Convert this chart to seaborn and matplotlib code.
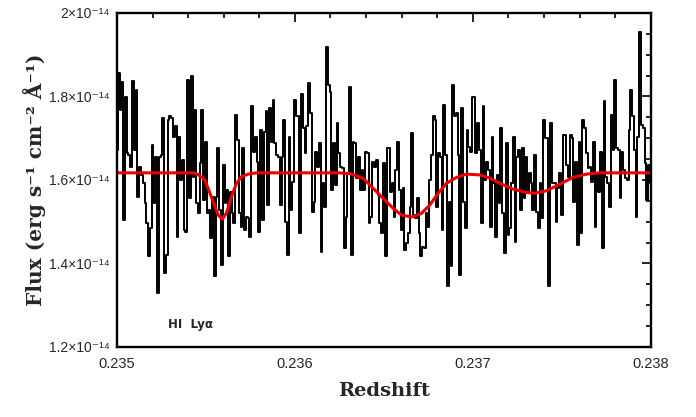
import numpy as np
import pandas as pd
import matplotlib
matplotlib.use('Agg')
import matplotlib.pyplot as plt
import seaborn as sns
from matplotlib.ticker import MultipleLocator, FuncFormatter

# espectro observado (fluxo em unidades de 1e-14 erg/s/cm2/A), bins de 1e-5 em z
z_inicio = 0.235
passo_z = 1e-5
fluxo = [
    1.672, 1.855, 1.768, 1.835, 1.504, 1.799, 1.664, 1.660, 1.632, 1.838,
    1.672, 1.815, 1.560, 1.632, 1.612, 1.592, 1.544, 1.496, 1.417, 1.484,
    1.684, 1.544, 1.656, 1.329, 1.656, 1.660, 1.748, 1.377, 1.421, 1.744,
    1.752, 1.748, 1.704, 1.728, 1.464, 1.704, 1.600, 1.648, 1.480, 1.476,
    1.839, 1.556, 1.849, 1.608, 1.768, 1.544, 1.520, 1.640, 1.768, 1.552,
    1.692, 1.520,
    1.528, 1.460, 1.560, 1.369, 1.560, 1.676, 1.528, 1.397, 1.636, 1.544,
    1.576, 1.417, 1.572, 1.520, 1.496, 1.756, 1.696, 1.520, 1.488, 1.676,
    1.480, 1.512, 1.508, 1.464, 1.776, 1.668, 1.704, 1.644, 1.476, 1.720,
    1.504, 1.716, 1.764, 1.540, 1.772, 1.692, 1.792, 1.688, 1.660, 1.656,
    1.540, 1.656, 1.744, 1.500, 1.421, 1.704, 1.528, 1.596, 1.792, 1.752,
    1.752, 1.472, 1.807, 1.724, 1.664, 1.728, 1.831, 1.760, 1.524, 1.548,
    1.668, 1.632, 1.688, 1.428, 1.592, 1.536, 1.919, 1.827, 1.811, 1.576,
    1.688, 1.588, 1.736, 1.664, 1.632, 1.628, 1.436, 1.512, 1.616, 1.823,
    1.421, 1.692, 1.688, 1.604, 1.656, 1.576, 1.624, 1.576, 1.668, 1.664,
    1.496, 1.512, 1.644, 1.632, 1.648, 1.564, 1.496, 1.472, 1.640, 1.417,
    1.676,
    1.676, 1.572, 1.592, 1.512, 1.624, 1.692, 1.576, 1.480, 1.580, 1.432,
    1.448, 1.472, 1.536, 1.712, 1.516, 1.508, 1.556, 1.472, 1.417, 1.440,
    1.436, 1.520, 1.488, 1.600, 1.660, 1.752, 1.744, 1.536, 1.664, 1.656,
    1.480, 1.780, 1.660, 1.345, 1.548, 1.393, 1.827, 1.752, 1.760, 1.660,
    1.373, 1.772, 1.548, 1.484, 1.720, 1.680, 1.668, 1.799,
    1.798, 1.664, 1.736, 1.672, 1.496, 1.776, 1.600, 1.644, 1.624, 1.488,
    1.704, 1.592, 1.464, 1.612, 1.544, 1.724, 1.520, 1.424, 1.688, 1.468,
    1.484, 1.592, 1.704, 1.452, 1.656, 1.672, 1.528, 1.676, 1.556, 1.656,
    1.572, 1.616, 1.592, 1.528, 1.660, 1.524, 1.484, 1.592, 1.508, 1.744,
    1.700, 1.700, 1.345, 1.736, 1.592, 1.592, 1.500, 1.580, 1.616, 1.516,
    1.708,
    1.708, 1.636, 1.608, 1.708, 1.700, 1.548, 1.644, 1.444, 1.692, 1.472,
    1.744, 1.724, 1.664, 1.628, 1.632, 1.596, 1.692, 1.488, 1.616, 1.572,
    1.668, 1.436, 1.788, 1.608, 1.592, 1.536, 1.756, 1.672, 1.839, 1.676,
    1.672, 1.556, 1.668, 1.624, 1.604, 1.600, 1.720, 1.815, 1.752, 1.672,
    1.512, 1.704, 1.955, 1.732, 1.724, 1.640, 1.552, 1.636, 1.592,
]

# modelo ajustado (linha vermelha)
z_modelo = [
    0.2350, 0.23543, 0.235455, 0.235494, 0.235522, 0.235551, 0.235569,
    0.235592, 0.235616, 0.235644, 0.235672, 0.235701, 0.235738, 0.235785,
    0.23585, 0.23625, 0.236309, 0.236384, 0.236440, 0.236496, 0.236552,
    0.236599, 0.236656, 0.236712, 0.236758, 0.236805, 0.236852, 0.236908,
    0.236965, 0.237039, 0.237096, 0.237152, 0.237226, 0.237302, 0.237348,
    0.237414, 0.237489, 0.237563, 0.237639, 0.237713, 0.2378, 0.2380,
]
fluxo_modelo = [
    1.617, 1.617, 1.613, 1.600, 1.569, 1.536, 1.516,
    1.506, 1.521, 1.560, 1.592, 1.608, 1.614, 1.617,
    1.617, 1.617, 1.615, 1.604, 1.580, 1.556, 1.532,
    1.516, 1.511, 1.520, 1.540, 1.568, 1.592, 1.606,
    1.614, 1.612, 1.604, 1.592, 1.578, 1.570, 1.568,
    1.574, 1.590, 1.606, 1.614, 1.617, 1.617, 1.617,
]

df = pd.DataFrame({
    'z': z_inicio + passo_z * np.arange(len(fluxo)),
    'fluxo': fluxo,
})
df_modelo = pd.DataFrame({'z': z_modelo, 'fluxo': fluxo_modelo})

sns.set_theme(style='white')
plt.rcParams['font.family'] = ['Liberation Sans', 'DejaVu Sans']

fig = plt.figure(figsize=(6.96, 4.17), dpi=100)
ax = fig.add_axes([0.168, 0.168, 0.767, 0.801])

sns.lineplot(data=df, x='z', y='fluxo', ax=ax, color='black', linewidth=1.4,
             drawstyle='steps-mid', estimator=None, sort=False)
sns.lineplot(data=df_modelo, x='z', y='fluxo', ax=ax, color='#ee0000',
             linewidth=2.2, estimator=None, sort=False)

ax.set_xlim(0.235, 0.238)
ax.set_ylim(1.2, 2.0)

ax.xaxis.set_major_locator(MultipleLocator(0.001))
ax.xaxis.set_minor_locator(MultipleLocator(0.0002))
ax.yaxis.set_major_locator(MultipleLocator(0.2))
ax.yaxis.set_minor_locator(MultipleLocator(0.05))
ax.xaxis.set_major_formatter(FuncFormatter(lambda v, p: f'{v:.3f}'))
ax.yaxis.set_major_formatter(FuncFormatter(lambda v, p: f'{v:g}×10⁻¹⁴'))

ax.tick_params(which='both', direction='in', top=True, right=True,
               color='black', width=1.2)
ax.tick_params(which='major', length=6.5)
ax.tick_params(which='minor', length=3.5)
ax.tick_params(axis='x', labelsize=10.5, pad=7)
ax.tick_params(axis='y', labelsize=10, pad=5)

for s in ax.spines.values():
    s.set_color('black')
    s.set_linewidth(1.7)

ax.set_xlabel('Redshift', family='DejaVu Serif', fontweight='bold',
              fontsize=14, labelpad=8)
ax.set_ylabel('Flux (erg s⁻¹ cm⁻² Å⁻¹)', family='DejaVu Serif',
              fontweight='bold', fontsize=14.5, labelpad=2)

ax.text(0.095, 0.066, 'HI  Lyα', transform=ax.transAxes, fontsize=8.5,
        fontweight='bold', family=['DejaVu Sans'], va='center', ha='left')

plt.savefig('out.png', dpi=100)
